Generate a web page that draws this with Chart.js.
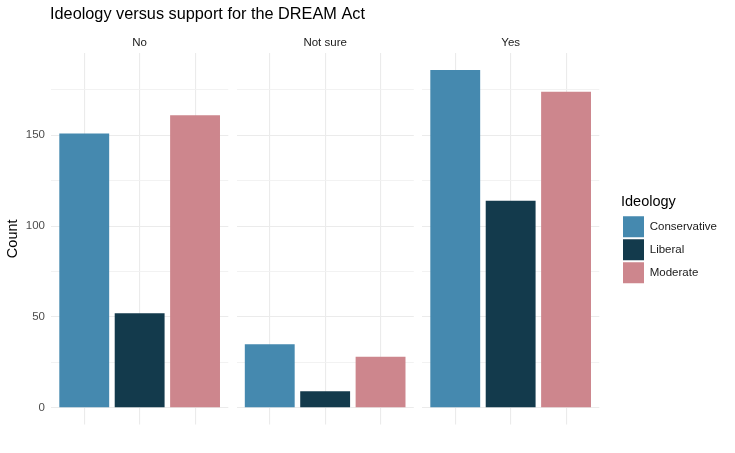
<!DOCTYPE html>
<html><head><meta charset="utf-8">
<script src="https://cdn.jsdelivr.net/npm/chart.js@4.4.1/dist/chart.umd.min.js"></script>
<style>
html,body{margin:0;padding:0;background:#fff;overflow:hidden;}
.layer{position:absolute;left:0;top:0;width:735px;height:453px;}
</style></head><body>
<div class="layer"><canvas id="cTitle"></canvas></div>
<div class="layer"><canvas id="p0"></canvas></div>
<div class="layer"><canvas id="p1"></canvas></div>
<div class="layer"><canvas id="p2"></canvas></div>
<div class="layer"><canvas id="cLegend"></canvas></div>
<script>
// ---- data ----
const facets = ['No', 'Not sure', 'Yes'];
const ideologies = ['Conservative', 'Liberal', 'Moderate'];
const conservative = [151, 35, 186];
const liberal = [52, 9, 114];
const moderate = [161, 28, 174];
const yTickLabels = [0, 50, 100, 150];
const yMinorTicks = [25, 75, 125, 175];
const chartTitle = 'Ideology versus support for the DREAM Act';
const yTitle = 'Count';
const legendTitle = 'Ideology';

// ---- style ----
const colors = ['#4589AF', '#133A4C', '#CD868D'];
const FONT = "'Liberation Sans', Arial, Helvetica, sans-serif";
Chart.defaults.font.family = FONT;
Chart.defaults.animation = false;
Chart.defaults.responsive = true;
Chart.defaults.maintainAspectRatio = false;
Chart.defaults.plugins.tooltip.enabled = false;

const W = 735, H = 453;
const panelLeft = [51, 236.5, 422];
const panelWidth = 177.3;
const panelTop = 53, panelBottom = 424.6;

const series = [conservative, liberal, moderate];
const yMax = Math.max(...series.flat());
const Y_MIN = -0.05 * yMax, Y_MAX = 1.05 * yMax;
const allYTicks = [...yTickLabels, ...yMinorTicks].sort((a, b) => a - b);

// ---- title chart ----
new Chart(document.getElementById('cTitle'), {
  type: 'bar',
  data: { datasets: [] },
  options: {
    layout: { padding: { left: 50, top: 0 } },
    scales: { x: { display: false }, y: { display: false } },
    plugins: {
      legend: { display: false },
      title: {
        display: true, text: chartTitle, align: 'start', color: '#000',
        font: { size: 16.3, weight: 'normal' }, padding: { top: 5, bottom: 0 }
      }
    }
  }
});

// ---- facet panels ----
facets.forEach((facet, i) => {
  const first = i === 0;
  new Chart(document.getElementById('p' + i), {
    type: 'bar',
    data: {
      datasets: ideologies.map((name, k) => ({
        label: name,
        data: [{ x: k + 1, y: series[k][i] }],
        backgroundColor: colors[k],
        borderWidth: 0,
        grouped: false,
        categoryPercentage: 1,
        barPercentage: 0.9
      }))
    },
    options: {
      layout: {
        padding: {
          left: first ? 0 : panelLeft[i],
          right: W - (panelLeft[i] + panelWidth),
          top: 30,
          bottom: H - panelBottom
        }
      },
      scales: {
        x: {
          type: 'linear', position: 'top', min: 0.4, max: 3.6,
          offset: false,
          afterBuildTicks: s => { s.ticks = ideologies.map((_, k) => ({ value: k + 1 })); },
          afterFit: s => { s.height = panelTop - 30; },
          ticks: { display: false },
          grid: { offset: false, color: '#ebebeb', lineWidth: 1.1, drawTicks: false },
          border: { display: false },
          title: {
            display: true, text: facet, color: '#1a1a1a',
            font: { size: 11.5 }, padding: { top: 6, bottom: 4 }
          }
        },
        y: {
          type: 'linear', min: Y_MIN, max: Y_MAX,
          afterBuildTicks: s => { s.ticks = allYTicks.map(v => ({ value: v })); },
          afterFit: s => { s.width = first ? panelLeft[0] : 0; },
          ticks: {
            display: first, padding: 6, color: '#4d4d4d', font: { size: 11.5 },
            callback: v => yTickLabels.includes(v) ? String(v) : ''
          },
          grid: {
            drawTicks: false,
            color: c => yTickLabels.includes(c.tick && c.tick.value) ? '#ebebeb' : '#f1f1f1',
            lineWidth: c => yTickLabels.includes(c.tick && c.tick.value) ? 1.1 : 0.9
          },
          border: { display: false },
          title: {
            display: first, text: yTitle, color: '#000',
            font: { size: 14.5 }, padding: { top: 4, bottom: 0 }
          }
        }
      },
      plugins: { legend: { display: false }, title: { display: false } }
    }
  });
});

// ---- legend ----
new Chart(document.getElementById('cLegend'), {
  type: 'bar',
  data: {
    datasets: ideologies.map((name, k) => ({
      label: name, data: [], backgroundColor: colors[k], borderWidth: 0
    }))
  },
  options: {
    layout: { padding: { left: 621, top: 194.75, bottom: 100 } },
    scales: { x: { display: false }, y: { display: false } },
    plugins: {
      legend: {
        display: true, position: 'left', align: 'start', maxWidth: 200,
        title: {
          display: true, text: legendTitle, color: '#000', position: 'start',
          font: { size: 14.5 }, padding: { top: 0, bottom: 2 }
        },
        labels: {
          boxWidth: 21, boxHeight: 21, padding: 2, color: '#1a1a1a',
          font: { size: 11.5 }
        }
      }
    }
  }
});
</script>
</body></html>
